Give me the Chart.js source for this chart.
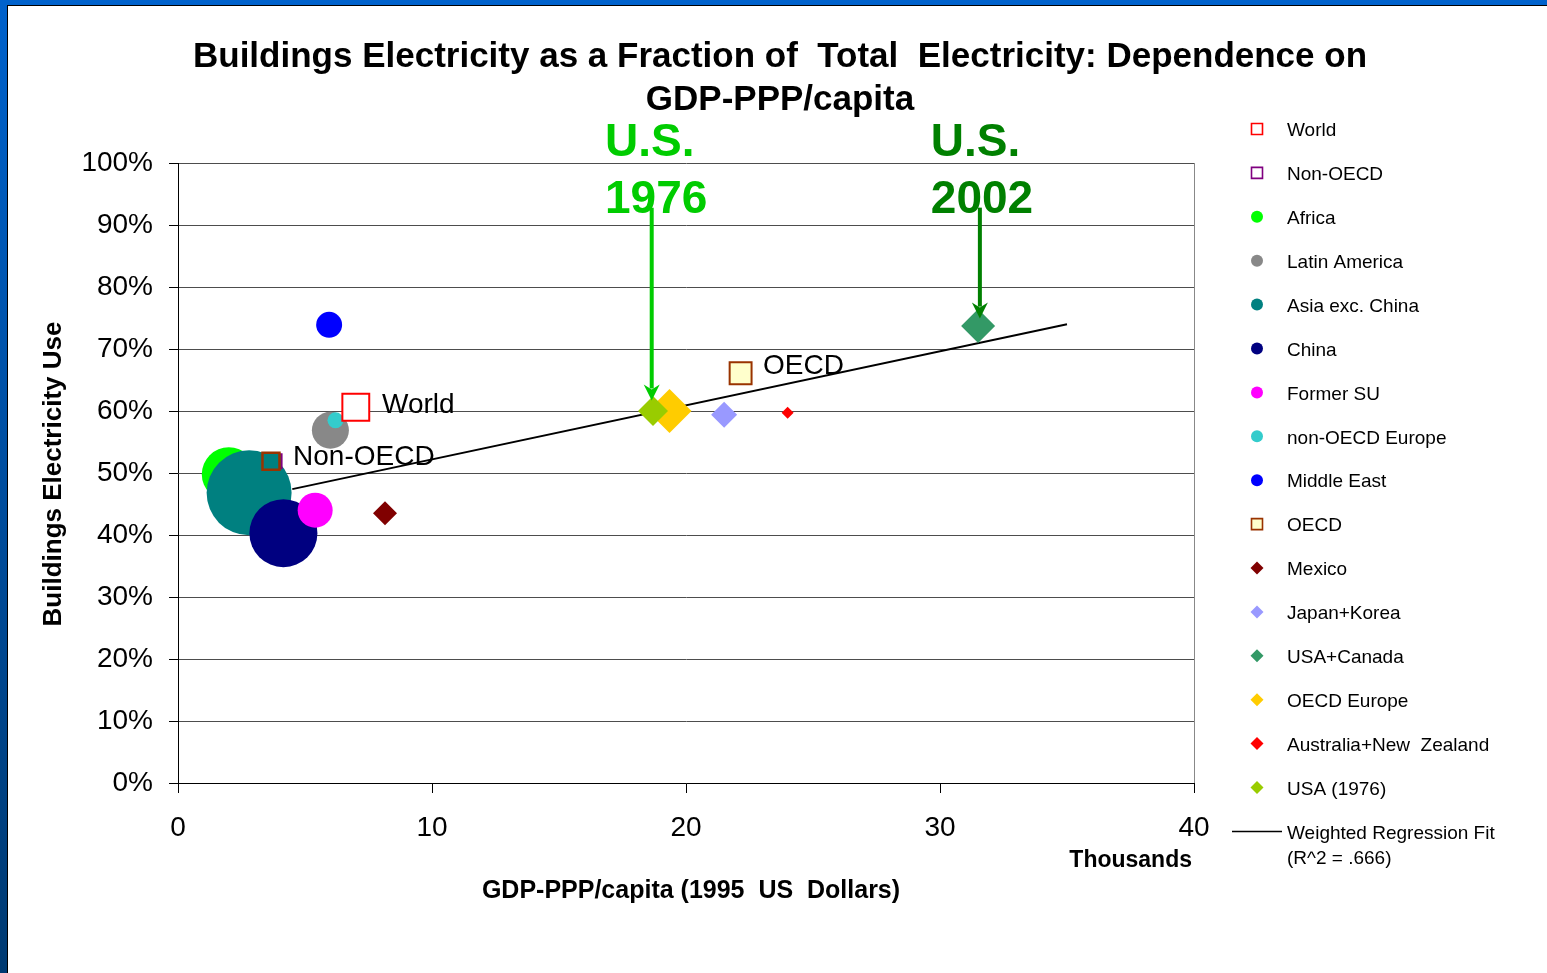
<!DOCTYPE html>
<html>
<head>
<meta charset="utf-8">
<title>Buildings Electricity as a Fraction of Total Electricity</title>
<script src="https://cdn.jsdelivr.net/npm/chart.js@4.4.0/dist/chart.umd.min.js"></script>
<style>
  html, body { margin: 0; padding: 0; background: #fff; overflow: hidden; }
  canvas { display: block; }
</style>
</head>
<body>
<canvas id="graficoEdificios" width="1547" height="973"></canvas>
<script>
// DATOS
const regions = ['World', 'Non-OECD', 'Africa', 'Latin America', 'Asia exc. China', 'China',
    'Former SU', 'non-OECD Europe', 'Middle East', 'OECD', 'Mexico', 'Japan+Korea',
    'USA+Canada', 'OECD Europe', 'Australia+New  Zealand', 'USA (1976)'];
// GDP-PPP per capita, thousands of 1995 US dollars
const gdpPerCapita = [7.0, 3.8, 2.0, 6.0, 2.8, 4.15, 5.4, 6.2, 5.95, 22.15, 8.15, 21.5, 31.5, 19.35, 24.0, 18.7];
// buildings electricity as % of total electricity
const buildingsShare = [60.6, 51.9, 49.8, 56.9, 46.8, 40.3, 44.0, 58.5, 73.9, 66.1, 43.5, 59.4, 73.7, 60.0, 59.7, 60.0];
// second square drawn over the Non-OECD one (no legend entry)
const extraGdp = [3.66];
const extraShare = [51.9];
// weighted regression fit, end points
const fitGdp = [4.5, 35.0];
const fitShare = [47.4, 74.0];
const fitLabel = ['Weighted Regression Fit', '(R^2 = .666)'];
const xTickLabels = ['0', '10', '20', '30', '40'];
const yTickLabels = ['0%', '10%', '20%', '30%', '40%', '50%', '60%', '70%', '80%', '90%', '100%'];

const fontFamily = '"Liberation Sans", Arial, Helvetica, sans-serif';

// ESTILOS (z: mayor = se dibuja debajo)
const markerStyle = {
    'World':                  { shape: 'rect',    r: 19,   fill: '#ffffff', line: '#ff0000', bw: 2, z: 4 },
    'Non-OECD':               { shape: 'rect',    r: 10,   fill: '#008080', line: '#800080', bw: 2, z: 6 },
    'Africa':                 { shape: 'circle',  r: 27,   fill: '#00ff00', line: '#00ff00', bw: 0, z: 12 },
    'Latin America':          { shape: 'circle',  r: 18.5, fill: '#888888', line: '#888888', bw: 0, z: 7 },
    'Asia exc. China':        { shape: 'circle',  r: 42.5, fill: '#008080', line: '#008080', bw: 0, z: 11 },
    'China':                  { shape: 'circle',  r: 34,   fill: '#000080', line: '#000080', bw: 0, z: 9 },
    'Former SU':              { shape: 'circle',  r: 17.5, fill: '#ff00ff', line: '#ff00ff', bw: 0, z: 8 },
    'non-OECD Europe':        { shape: 'circle',  r: 8,    fill: '#33cccc', line: '#33cccc', bw: 0, z: 5 },
    'Middle East':            { shape: 'circle',  r: 13,   fill: '#0000ff', line: '#0000ff', bw: 0, z: 5 },
    'OECD':                   { shape: 'rect',    r: 15.5, fill: '#ffffcc', line: '#993300', bw: 2, z: 5 },
    'Mexico':                 { shape: 'rectRot', r: 12,   fill: '#800000', line: '#800000', bw: 0, z: 5 },
    'Japan+Korea':            { shape: 'rectRot', r: 13,   fill: '#9999ff', line: '#9999ff', bw: 0, z: 5 },
    'USA+Canada':             { shape: 'rectRot', r: 17,   fill: '#339966', line: '#339966', bw: 0, z: 5 },
    'OECD Europe':            { shape: 'rectRot', r: 22,   fill: '#ffcc00', line: '#ffcc00', bw: 0, z: 6 },
    'Australia+New  Zealand': { shape: 'rectRot', r: 6,    fill: '#ff0000', line: '#ff0000', bw: 0, z: 5 },
    'USA (1976)':             { shape: 'rectRot', r: 15,   fill: '#99cc00', line: '#99cc00', bw: 0, z: 4 }
};
const legendMarker = {
    rect:    { size: 5.5, bw: 1.6 },
    circle:  { size: 6 },
    rectRot: { size: 6.5 }
};

// etiquetas y flechas dentro del grafico (en unidades de datos)
const textLabels = [
    { text: 'World',    x: 8.03,  y: 61.3, font: '28px', color: '#000' },
    { text: 'Non-OECD', x: 4.53,  y: 52.9, font: '28px', color: '#000' },
    { text: 'OECD',     x: 23.03, y: 67.6, font: '28px', color: '#000' },
    { text: 'U.S.',     x: 16.81, y: 103.5, font: 'bold 46px', color: '#00cc00' },
    { text: '1976',     x: 16.81, y: 94.3,  font: 'bold 46px', color: '#00cc00' },
    { text: 'U.S.',     x: 29.64, y: 103.5, font: 'bold 46px', color: '#008000' },
    { text: '2002',     x: 29.64, y: 94.3,  font: 'bold 46px', color: '#008000' }
];
const arrows = [
    { x: 18.65, from: 92.8, to: 61.7, color: '#00cc00' },
    { x: 31.57, from: 92.8, to: 74.9, color: '#008000' }
];

const datasets = regions.map(function (name, i) {
    const s = markerStyle[name];
    return {
        label: name,
        data: [{ x: gdpPerCapita[i], y: buildingsShare[i] }],
        pointStyle: s.shape,
        pointRadius: s.r,
        backgroundColor: s.fill,
        borderColor: s.line,
        borderWidth: s.bw,
        order: s.z
    };
});

datasets.push({
    label: 'extra',
    data: extraGdp.map(function (v, i) { return { x: v, y: extraShare[i] }; }),
    pointStyle: 'rect',
    pointRadius: 12,
    backgroundColor: '#008080',
    borderColor: '#993300',
    borderWidth: 2.5,
    order: 5
});

datasets.push({
    label: fitLabel.join(' '),
    data: fitGdp.map(function (v, i) { return { x: v, y: fitShare[i] }; }),
    showLine: true,
    pointRadius: 0,
    borderColor: '#000000',
    borderWidth: 2,
    order: 50
});

function markPath(ctx, shape, x, y, s) {
    ctx.beginPath();
    if (shape === 'circle') {
        ctx.arc(x, y, s, 0, Math.PI * 2);
    } else if (shape === 'rect') {
        ctx.rect(x - s, y - s, 2 * s, 2 * s);
    } else {
        ctx.moveTo(x, y - s);
        ctx.lineTo(x + s, y);
        ctx.lineTo(x, y + s);
        ctx.lineTo(x - s, y);
        ctx.closePath();
    }
}

const TXT = 2; // el texto con baseline middle queda un poco alto

const decoracion = {
    id: 'decoracion',
    beforeDraw: function (chart) {
        const ctx = chart.ctx;
        const W = chart.width, H = chart.height;
        ctx.save();
        ctx.fillStyle = '#ffffff';
        ctx.fillRect(0, 0, W, H);
        const g = ctx.createLinearGradient(0, 0, 0, H);
        g.addColorStop(0, '#0062cc');
        g.addColorStop(1, '#003a72');
        ctx.fillStyle = g;
        ctx.fillRect(0, 0, 7, H);
        ctx.fillStyle = '#0062cc';
        ctx.fillRect(0, 0, W, 5);
        ctx.fillStyle = '#000000';
        ctx.fillRect(7, 5, 1, H);
        ctx.fillRect(7, 5, W, 1);
        ctx.restore();
    },
    afterDraw: function (chart) {
        const ctx = chart.ctx;
        const area = chart.chartArea;
        const xs = chart.scales.x, ys = chart.scales.y;
        ctx.save();

        // borde derecho del area
        ctx.strokeStyle = '#888888';
        ctx.lineWidth = 1;
        ctx.beginPath();
        ctx.moveTo(Math.round(area.right) + 0.5, area.top);
        ctx.lineTo(Math.round(area.right) + 0.5, area.bottom);
        ctx.stroke();

        // titulo
        ctx.fillStyle = '#000';
        ctx.textAlign = 'center';
        ctx.textBaseline = 'middle';
        ctx.font = 'bold 35px ' + fontFamily;
        ctx.fillText('Buildings Electricity as a Fraction of  Total  Electricity: Dependence on', 780, 55 + TXT);
        ctx.fillText('GDP-PPP/capita', 780, 98 + TXT);

        // titulos de ejes
        ctx.font = 'bold 25px ' + fontFamily;
        ctx.fillText('GDP-PPP/capita (1995  US  Dollars)', 691, 889 + TXT);
        ctx.textAlign = 'right';
        ctx.font = 'bold 23px ' + fontFamily;
        ctx.fillText('Thousands', 1192, 859 + TXT);
        ctx.save();
        ctx.translate(52 + TXT, 474);
        ctx.rotate(-Math.PI / 2);
        ctx.textAlign = 'center';
        ctx.font = 'bold 26px ' + fontFamily;
        ctx.fillText('Buildings Electricity Use', 0, 0);
        ctx.restore();

        // etiquetas
        ctx.textAlign = 'left';
        textLabels.forEach(function (t) {
            ctx.font = t.font + ' ' + fontFamily;
            ctx.fillStyle = t.color;
            ctx.fillText(t.text, xs.getPixelForValue(t.x), ys.getPixelForValue(t.y) + TXT);
        });

        // flechas
        arrows.forEach(function (a) {
            const x = xs.getPixelForValue(a.x);
            const y1 = ys.getPixelForValue(a.from);
            const y2 = ys.getPixelForValue(a.to);
            ctx.strokeStyle = a.color;
            ctx.fillStyle = a.color;
            ctx.lineWidth = 4;
            ctx.beginPath();
            ctx.moveTo(x, y1);
            ctx.lineTo(x, y2 - 12);
            ctx.stroke();
            ctx.beginPath();
            ctx.moveTo(x, y2);
            ctx.lineTo(x - 8, y2 - 16);
            ctx.lineTo(x, y2 - 11);
            ctx.lineTo(x + 8, y2 - 16);
            ctx.closePath();
            ctx.fill();
        });

        // leyenda
        const lx = 1257, tx = 1287, top = 129, step = 43.9;
        ctx.font = '19px ' + fontFamily;
        ctx.textBaseline = 'middle';
        regions.forEach(function (name, i) {
            const s = markerStyle[name];
            const m = legendMarker[s.shape];
            const y = top + i * step;
            markPath(ctx, s.shape, lx, y, m.size);
            ctx.fillStyle = s.shape === 'rect' ? (name === 'OECD' ? s.fill : '#ffffff') : s.fill;
            ctx.fill();
            if (s.shape === 'rect') {
                ctx.strokeStyle = s.line;
                ctx.lineWidth = m.bw;
                ctx.stroke();
            }
            ctx.fillStyle = '#000';
            ctx.fillText(name, tx, y + TXT);
        });
        const fy = top + regions.length * step;
        ctx.strokeStyle = '#000';
        ctx.lineWidth = 1.5;
        ctx.beginPath();
        ctx.moveTo(1232, fy);
        ctx.lineTo(1282, fy);
        ctx.stroke();
        ctx.fillStyle = '#000';
        ctx.fillText(fitLabel[0], tx, fy + TXT);
        ctx.fillText(fitLabel[1], tx, fy + 25 + TXT);

        ctx.restore();
    }
};

const ctx = document.getElementById('graficoEdificios');

new Chart(ctx, {
    type: 'scatter',
    data: { datasets: datasets },
    options: {
        responsive: false,
        animation: false,
        devicePixelRatio: 1,
        events: [],
        layout: {
            padding: { left: 0, top: 163, right: 353, bottom: 0 }
        },
        scales: {
            x: {
                type: 'linear',
                min: 0,
                max: 40,
                afterFit: function (scale) { scale.height = 190; },
                afterBuildTicks: function (scale) {
                    scale.ticks = xTickLabels.map(function (t) { return { value: Number(t) }; });
                },
                ticks: {
                    callback: function (value, index) { return xTickLabels[index]; },
                    font: { family: fontFamily, size: 28 },
                    color: '#000',
                    padding: 18,
                    maxRotation: 0
                },
                grid: {
                    drawOnChartArea: false,
                    tickLength: 10,
                    tickColor: '#000'
                },
                border: { color: '#000', width: 1 }
            },
            y: {
                type: 'linear',
                min: 0,
                max: 100,
                afterFit: function (scale) { scale.width = 178; },
                afterBuildTicks: function (scale) {
                    scale.ticks = yTickLabels.map(function (t) { return { value: parseFloat(t) }; });
                },
                ticks: {
                    callback: function (value, index) { return yTickLabels[index]; },
                    font: { family: fontFamily, size: 28 },
                    color: '#000',
                    padding: 16
                },
                grid: {
                    color: '#4d4d4d',
                    tickLength: 9,
                    tickColor: '#000'
                },
                border: { color: '#000', width: 1 }
            }
        },
        plugins: {
            legend: { display: false },
            title: { display: false },
            tooltip: { enabled: false }
        }
    },
    plugins: [decoracion]
});
</script>
</body>
</html>
